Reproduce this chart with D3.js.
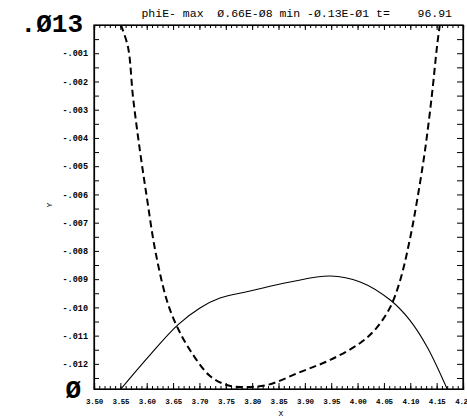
<!DOCTYPE html>
<html>
<head>
<meta charset="utf-8">
<script src="https://cdn.jsdelivr.net/npm/d3@7"></script>
<style>
  body { margin: 0; background: #fff; }
  text { font-family: "Liberation Mono", "DejaVu Sans Mono", monospace; fill: #000; }
</style>
</head>
<body>
<div id="chartContainer"></div>
<script>
// Data
var solidX = [3.551, 3.606, 3.659, 3.701, 3.739, 3.796, 3.872, 3.948, 4.005, 4.062, 4.099, 4.132, 4.170];
var solidY = [-0.01289, -0.01169, -0.01062, -0.01002, -0.00967, -0.00942, -0.00910, -0.00889, -0.00910, -0.00974, -0.01045, -0.01140, -0.01289];

var dashX = [3.551, 3.5645, 3.574, 3.587, 3.601, 3.616, 3.638, 3.657, 3.682, 3.720, 3.752, 3.777, 3.828, 3.891, 3.948, 4.005, 4.035, 4.062, 4.081, 4.099, 4.113, 4.128, 4.141, 4.151, 4.156];
var dashY = [0, -0.00078, -0.00255, -0.00443, -0.00620, -0.00797, -0.00974, -0.01066, -0.01151, -0.01243, -0.01275, -0.01282, -0.01275, -0.01229, -0.01186, -0.01126, -0.01075, -0.00999, -0.00903, -0.00761, -0.00620, -0.00443, -0.00248, -0.00071, 0];

var xTickLabels = ['3.50', '3.55', '3.60', '3.65', '3.70', '3.75', '3.80', '3.85', '3.90', '3.95', '4.00', '4.05', '4.10', '4.15', '4.2'];
var yTickLabels = ['-.001', '-.002', '-.003', '-.004', '-.005', '-.006', '-.007', '-.008', '-.009', '-.010', '-.011', '-.012'];
var yTopLabel = '.Ø13',
    yBottomLabel = 'Ø',
    title = 'phiE- max  Ø.66E-Ø8 min -Ø.13E-Ø1 t=    96.91';

(function drawChart() {
  // Layout constants
  var width = 467,
      height = 419,
      plotLeft = 94,
      plotRight = 463,
      plotTop = 25,
      plotBottom = 389,
      xMin = 3.5,
      xMax = 4.2,
      yMin = -0.01289,
      yMax = 0;

  var svg = d3.select('#chartContainer').append('svg')
              .attr('width', width)
              .attr('height', height);

  var x = d3.scaleLinear().domain([xMin, xMax]).range([plotLeft, plotRight]);
  var y = d3.scaleLinear().domain([yMin, yMax]).range([plotBottom, plotTop]);

  var xMajor = d3.range(0, 15).map(function(i) { return xMin + i * 0.05; });
  var xMinor = d3.range(0, 71).map(function(i) { return xMin + i * 0.01; });
  var yMinor = d3.range(1, 26).map(function(i) { return -i * 0.0005; });

  // Bottom axis, ticks pointing inward
  svg.append('g').attr('transform', 'translate(0,' + plotBottom + ')')
     .call(d3.axisBottom(x).tickValues(xMinor).tickSize(-3).tickFormat(''));
  var gx = svg.append('g').attr('transform', 'translate(0,' + plotBottom + ')')
     .call(d3.axisBottom(x).tickValues(xMajor).tickSize(-6)
             .tickFormat(function(d, i) { return xTickLabels[i]; }));
  gx.selectAll('text')
    .attr('y', 10)
    .attr('x', function(d, i) { return i === xTickLabels.length - 1 ? -2 : 0; })
    .style('font-size', '7.5px')
    .style('letter-spacing', '-0.3px')
    .style('font-weight', 'bold');

  // Top axis
  svg.append('g').attr('transform', 'translate(0,' + plotTop + ')')
     .call(d3.axisTop(x).tickValues(xMinor).tickSize(-3).tickFormat(''));
  svg.append('g').attr('transform', 'translate(0,' + plotTop + ')')
     .call(d3.axisTop(x).tickValues(xMajor).tickSize(-5).tickFormat(''));

  // Left axis with labels on every 0.001
  var gy = svg.append('g').attr('transform', 'translate(' + plotLeft + ',0)')
     .call(d3.axisLeft(y).tickValues(yMinor).tickSize(-5).tickFormat(function(d) {
       var k = -d / 0.001;
       return Math.abs(k - Math.round(k)) < 1e-6 ? yTickLabels[Math.round(k) - 1] : '';
     }));
  gy.selectAll('text')
    .attr('x', -6)
    .style('font-size', '8.5px')
    .style('font-weight', 'bold');

  // Right axis
  svg.append('g').attr('transform', 'translate(' + plotRight + ',0)')
     .call(d3.axisRight(y).tickValues(yMinor).tickSize(-6).tickFormat(''));

  svg.selectAll('.domain').attr('stroke', '#000').attr('stroke-width', 1.2);
  svg.selectAll('.tick line').attr('stroke', '#000');

  // Plot frame
  svg.append('rect')
     .attr('x', plotLeft).attr('y', plotTop)
     .attr('width', plotRight - plotLeft).attr('height', plotBottom - plotTop)
     .attr('fill', 'none').attr('stroke', '#000').attr('stroke-width', 1.2);

  // Clip for curves
  svg.append('clipPath').attr('id', 'plotClip')
     .append('rect')
     .attr('x', plotLeft).attr('y', plotTop)
     .attr('width', plotRight - plotLeft).attr('height', plotBottom - plotTop);

  var line = d3.line()
               .x(function(d) { return x(d[0]); })
               .y(function(d) { return y(d[1]); })
               .curve(d3.curveCatmullRom.alpha(0.5));

  svg.append('path')
     .datum(d3.zip(solidX, solidY))
     .attr('clip-path', 'url(#plotClip)')
     .attr('fill', 'none')
     .attr('stroke', '#000')
     .attr('stroke-width', 1.1)
     .attr('d', line);

  svg.append('path')
     .datum(d3.zip(dashX, dashY))
     .attr('clip-path', 'url(#plotClip)')
     .attr('fill', 'none')
     .attr('stroke', '#000')
     .attr('stroke-width', 2)
     .attr('stroke-dasharray', '7,4')
     .attr('d', line);

  // Title and range labels
  svg.append('text')
     .attr('x', 452).attr('y', 17)
     .attr('text-anchor', 'end')
     .style('font-size', '11.5px')
     .style('white-space', 'pre')
     .text(title);

  svg.append('text')
     .attr('x', 83).attr('y', 32)
     .attr('text-anchor', 'end')
     .style('font-size', '26px')
     .style('font-weight', 'bold')
     .text(yTopLabel);

  svg.append('text')
     .attr('x', 81).attr('y', 398)
     .attr('text-anchor', 'end')
     .style('font-size', '26px')
     .style('font-weight', 'bold')
     .text(yBottomLabel);

  // Axis titles
  svg.append('text')
     .attr('x', 281).attr('y', 416)
     .attr('text-anchor', 'middle')
     .style('font-size', '8px')
     .text('X');

  svg.append('text')
     .attr('transform', 'translate(52,205) rotate(-90)')
     .attr('text-anchor', 'middle')
     .style('font-size', '8px')
     .text('Y');
})();
</script>
</body>
</html>
